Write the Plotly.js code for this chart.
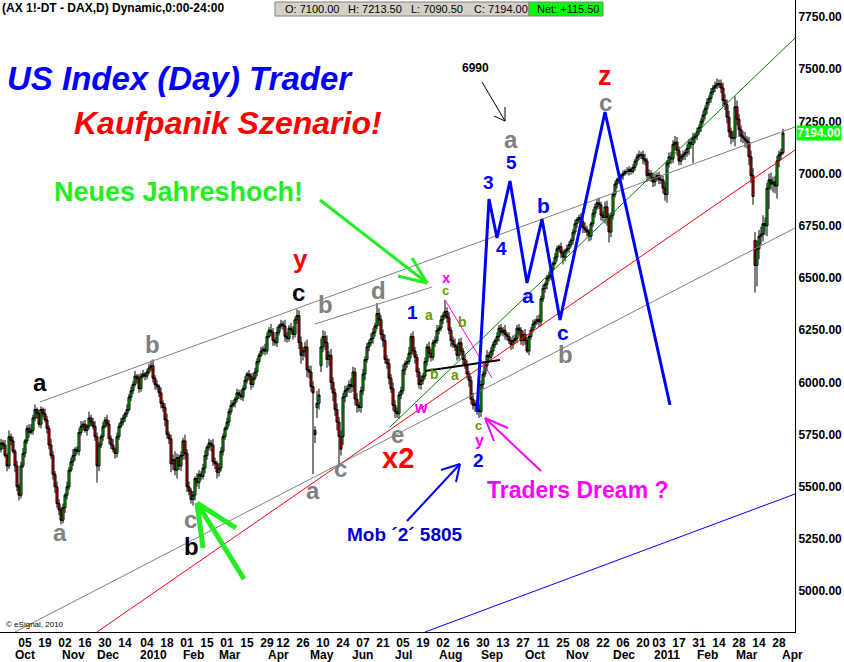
<!DOCTYPE html>
<html><head><meta charset="utf-8">
<script src="https://cdn.plot.ly/plotly-3.0.1.min.js"></script>
<style>html,body{margin:0;padding:0;background:#fff}#chart{width:844px;height:662px}</style>
</head><body><div id="chart"></div>
<script>
// ---------------- DATA ----------------
const startDate = '2009-09-17';
const endDate = '2011-03-30';
const holidays = ['2009-12-24','2009-12-25','2009-12-31','2010-01-01','2010-04-02','2010-04-05','2010-12-24','2010-12-31'];

const closes = [
5710,5700,5650,5600,5740,5720,5670,5600,5500,5460,
5600,5660,5720,5780,5760,5770,5830,5870,5850,5800,
5870,5850,5820,5780,5700,5650,5560,5500,5420,5390,
5340,5400,5460,5500,5580,5620,5650,5680,5670,5760,
5790,5800,5770,5790,5830,5810,5790,5740,5600,5700,
5740,5790,5820,5800,5730,5700,5680,5660,5740,5790,
5810,5830,5850,5870,5930,5960,5990,6030,6020,5970,
6030,6040,6030,6050,6070,6080,6020,5990,5980,5950,
5900,5880,5820,5750,5730,5610,5630,5580,5640,5600,
5650,5720,5660,5500,5480,5440,5460,5540,5520,5560,
5550,5590,5650,5690,5710,5700,5620,5610,5570,5590,
5670,5740,5780,5810,5860,5890,5900,5920,5950,5940,
5930,5970,6010,6040,6030,5990,6020,6050,6100,6130,
6150,6160,6150,6220,6250,6240,6200,6190,6240,6270,
6280,6270,6220,6210,6260,6250,6230,6300,6320,6190,
6130,6150,6170,6060,6050,5980,5950,5750,5900,5940,
6170,6220,6190,6110,6130,6000,5950,5870,5810,5740,
5680,5930,5960,5970,5990,5980,6050,5920,5890,5880,
5960,6040,6110,6170,6190,6210,6240,6270,6330,6300,
6230,6200,6110,6090,6020,5970,5890,5860,5850,5940,
5960,6060,6090,6100,6140,6220,6150,6120,6050,5990,
6010,6030,6100,6170,6140,6120,6190,6200,6250,6260,
6300,6320,6340,6310,6250,6200,6180,6170,6130,6190,
6150,6110,6080,6040,6010,5920,5890,5900,5870,5860,
5990,6040,6080,6130,6120,6150,6180,6200,6220,6260,
6240,6250,6230,6220,6200,6180,6200,6210,6260,6250,
6200,6230,6200,6150,6220,6250,6280,6290,6300,6290,
6400,6450,6470,6500,6510,6540,6570,6600,6640,6650,
6620,6600,6630,6640,6660,6680,6720,6760,6780,6790,
6770,6740,6730,6720,6700,6760,6810,6840,6860,6850,
6800,6790,6840,6790,6720,6800,6900,6950,6970,6980,
6990,7000,7010,7010,7020,7010,7030,7060,7080,7090,
7090,7070,7060,6990,7000,6980,6960,6980,6990,6970,
6970,6930,6900,7050,7080,7070,7140,7150,7110,7060,
7080,7090,7100,7120,7150,7140,7170,7180,7200,7220,
7250,7280,7310,7340,7360,7390,7410,7420,7430,7430,
7410,7350,7330,7270,7200,7170,7170,7320,7260,7210,
7180,7170,7160,7150,7080,6990,6890,6560,6640,6700,
6710,6760,6750,6930,6970,6950,6960,6940,7060,7090,
7100,7194];

// opening prices that gapped away from the previous close
const openGaps = [[157,5770],[158,5880],[160,6080],[171,5740],[377,6680]];
const firstOpen = 5680;

// upper / lower shadow lengths (points) read per candle
const wickUp = [
20,15,25,10,30,15,20,10,25,15,
20,25,10,15,20,30,15,25,10,20,
15,10,25,20,15,30,20,15,25,20,
15,20,10,25,15,20,30,10,15,20,
25,15,20,10,30,15,20,25,20,15,
10,20,15,25,20,15,30,10,20,15,
20,15,10,25,15,20,15,25,10,20,
15,20,10,15,20,25,30,15,20,10,
25,15,20,30,15,20,25,40,20,15,
20,15,30,20,25,15,20,10,25,20,
15,20,25,10,20,15,30,20,15,25,
20,15,10,20,15,25,15,10,20,15,
25,15,20,10,20,15,25,20,15,10,
20,15,25,20,15,30,20,15,25,10,
20,15,30,20,15,25,20,15,30,25,
30,20,25,35,20,30,25,20,60,30,
40,30,25,35,20,30,25,20,30,25,
30,20,25,15,20,30,25,20,30,15,
20,25,15,20,15,25,20,15,50,25,
20,25,30,20,25,20,30,25,20,15,
20,25,15,20,30,15,25,20,15,20,
25,15,20,15,25,20,15,20,25,15,
20,15,55,20,25,15,20,30,15,20,
25,15,20,25,15,20,30,15,20,25,
20,15,20,25,15,20,15,10,20,15,
20,15,25,10,20,15,25,20,15,20,
15,20,25,15,10,15,20,15,20,25,
15,20,10,15,20,15,10,20,15,10,
20,15,10,20,15,10,15,20,10,15,
20,15,25,20,15,10,20,15,20,25,
15,20,25,30,20,15,10,15,10,15,
10,15,10,20,15,10,15,10,15,20,
15,20,25,15,20,15,25,20,15,20,
25,20,30,15,20,25,20,30,25,20,
15,20,15,20,15,20,25,15,20,15,
15,20,15,20,15,20,15,20,25,20,
20,25,30,25,30,20,35,50,30,25,
20,25,30,20,25,30,35,40,40,30,
35,40,30,25,30,35,25,30,25,20,
20,19.5];
const wickDn = [
15,20,10,25,15,20,10,30,20,25,
15,10,20,15,25,10,20,15,25,15,
20,15,10,25,20,15,25,30,20,25,
20,15,25,20,15,10,20,25,15,20,
15,20,10,25,15,20,15,20,80,25,
15,20,10,15,25,20,15,25,20,15,
10,15,20,15,10,20,15,10,25,20,
15,10,20,15,10,15,20,25,15,20,
25,20,30,20,25,40,30,25,40,20,
25,20,30,25,20,20,30,25,20,30,
20,15,25,20,15,30,20,25,30,20,
15,20,15,10,20,15,10,20,15,20,
15,20,10,15,20,25,15,10,20,15,
10,15,20,15,10,20,25,15,20,15,
15,20,25,20,15,20,25,15,20,30,
40,25,30,35,30,25,390,40,50,30,
30,25,35,40,30,35,40,30,40,130,
30,40,25,30,20,30,25,30,35,20,
25,20,30,15,20,15,25,20,15,30,
25,30,20,25,30,20,25,30,20,25,
20,15,25,20,15,25,20,30,25,20,
25,20,15,20,25,20,15,20,15,20,
15,20,15,25,20,30,15,20,25,20,
20,25,15,20,30,25,20,30,25,30,
25,20,15,20,25,15,20,15,20,25,
15,20,25,20,15,25,20,15,20,25,
20,25,20,10,20,15,10,20,15,25,
20,15,20,25,15,20,15,10,20,15,
25,35,20,15,20,15,20,15,20,15,
20,25,15,20,25,20,15,20,15,20,
25,20,30,40,50,25,20,15,20,15,
15,20,10,15,20,15,10,15,20,15,
20,25,20,30,25,20,25,20,15,20,
20,25,30,40,20,25,20,30,25,20,
20,15,25,20,30,20,90,25,20,15,
20,15,20,25,15,20,15,20,15,20,
25,30,25,30,25,30,20,40,30,35,
30,25,35,30,40,35,40,130,100,50,
40,35,45,50,100,30,40,35,60,30,
25,9.5];

const tickDates = ['2009-10-05','2009-10-19','2009-11-02','2009-11-16','2009-11-30','2009-12-14',
'2010-01-04','2010-01-18','2010-02-01','2010-02-15','2010-03-01','2010-03-15','2010-03-29','2010-04-12','2010-04-26',
'2010-05-10','2010-05-24','2010-06-07','2010-06-21','2010-07-05','2010-07-19','2010-08-02','2010-08-16','2010-08-30',
'2010-09-13','2010-09-27','2010-10-11','2010-10-25','2010-11-08','2010-11-22','2010-12-06','2010-12-20',
'2011-01-03','2011-01-17','2011-01-31','2011-02-14','2011-02-28','2011-03-14','2011-03-28'];
const monthLabels = ['Oct','Nov','Dec','2010','Feb','Mar','Apr','May','Jun','Jul','Aug','Sep','Oct','Nov','Dec','2011','Feb','Mar','Apr'];
const yTicks = [5000,5250,5500,5750,6000,6250,6500,6750,7000,7250,7500,7750];

const lastBar = {o:7100.00, h:7213.50, l:7090.50, c:7194.00, net:'+115.50'};

// ---------------- BUILD ----------------
const days = [];
(function(){
  let d = new Date(startDate+'T00:00:00Z'); const end = new Date(endDate+'T00:00:00Z');
  while (d <= end) { const wd = d.getUTCDay(); const s = d.toISOString().slice(0,10);
    if (wd!==0 && wd!==6 && !holidays.includes(s)) days.push(s);
    d.setUTCDate(d.getUTCDate()+1); }
})();
const n = closes.length;
const xs = closes.map((_,i)=>i);
const opens = closes.map((c,i)=> i===0 ? firstOpen : closes[i-1]);
openGaps.forEach(([i,v])=>{opens[i]=v;});
const highs = closes.map((c,i)=> Math.max(opens[i],c)+wickUp[i]);
const lows  = closes.map((c,i)=> Math.min(opens[i],c)-wickDn[i]);

// pixel helpers (plot area 795 x 632)
const Y0 = 4805, Y1 = 7831, X0 = -0.5, X1 = 397;
const X = px => X0 + px*(X1-X0)/795;
const Y = py => Y1 - py*(Y1-Y0)/632;
const FONT = 'Liberation Sans, Arial, sans-serif';

const trace = {
  type:'candlestick', x: xs, open: opens, high: highs, low: lows, close: closes,
  text: days.slice(0,n), hoverinfo:'text',
  increasing:{line:{color:'#000000',width:1}, fillcolor:'#00d000'},
  decreasing:{line:{color:'#000000',width:1}, fillcolor:'#ee0000'},
  whiskerwidth:0
};

const annotations = [];
const shapes = [];
function lbl(t, px, py, color, size, opts){
  annotations.push(Object.assign({text:'<b>'+t+'</b>', x:X(px), y:Y(py), xref:'x', yref:'y', showarrow:false,
    xanchor:'center', yanchor:'middle', font:{family:FONT, size:size, color:color}}, opts||{}));
}
function seg(px0,py0,px1,py1,color,w){
  shapes.push({type:'line', xref:'x', yref:'y', x0:X(px0), y0:Y(py0), x1:X(px1), y1:Y(py1), line:{color:color,width:w}});
}
function arrow(tail, tip, h1, h2, color, w){
  seg(tail[0],tail[1],tip[0],tip[1],color,w);
  seg(tip[0],tip[1],h1[0],h1[1],color,w);
  seg(tip[0],tip[1],h2[0],h2[1],color,w);
}

// channel lines
seg(40,402,795,127,'#808080',1);
seg(315,324,432,287,'#808080',1);
seg(15,632,795,228,'#808080',1);
seg(97,632,795,150,'#ff0000',1);
seg(390,427,795,38,'#008000',1);
seg(425,632,795,494,'#0000ff',1);
seg(445,300,492,378,'#ff00ff',1);
seg(425,371,500,360,'#000000',2);

// projected wave path
const wave = [[477,412],[489,199],[497,238],[510,181],[527,283],[542,219],[560,320],[605,112],[670,405]];
shapes.push({type:'path', xref:'x', yref:'y', line:{color:'#0000ff',width:3},
  path: wave.map((p,i)=>(i?'L':'M')+X(p[0])+','+Y(p[1])).join(' ')});

// arrows
arrow([320,200],[427,283],[398,276],[412,258],'#22ee22',3);
arrow([244,579],[197,503],[236,528],[203,548],'#22ee22',5);
arrow([407,521],[460,464],[441,470],[456,482],'#0000ff',2);
arrow([541,471],[485,418],[508,428],[494,441],'#ff00ff',2);
arrow([482,82],[505,121],[494,116],[505,107],'#000000',1);

// wave labels
[
 ['a',40,382,'#000000',24],['a',60,532,'#808080',24],['b',152,344,'#808080',24],['c',190,519,'#808080',24],
 ['b',191,546,'#000000',24],['y',300,259,'#ff0000',26],['c',298,292,'#000000',24],['b',325,304,'#808080',24],
 ['a',313,490,'#808080',24],['c',340,468,'#808080',24],['d',378,290,'#808080',24],['e',397,434,'#808080',24],
 ['x2',398,458,'#ff0000',29],['1',412,312,'#0000ff',19],['a',429,315,'#669900',14],['x',446,277,'#ff00ff',15],
 ['c',445,290,'#669900',13],['b',462,322,'#669900',14],['b',434,374,'#669900',14],['a',455,375,'#669900',14],
 ['w',421,407,'#ff00ff',16],['c',478,425,'#669900',13],['y',479,440,'#ff00ff',16],['2',478,460,'#0000ff',19],
 ['3',488,182,'#0000ff',19],['4',501,248,'#0000ff',19],['5',511,162,'#0000ff',19],['a',511,139,'#808080',24],
 ['a',528,295,'#0000ff',21],['b',543,205,'#0000ff',21],['c',563,332,'#0000ff',21],['b',565,354,'#808080',24],
 ['z',605,76,'#ff0000',27],['c',605,102,'#808080',24],['6990',475,68,'#000000',12]
].forEach(a=>lbl(a[0],a[1],a[2],a[3],a[4]));

// big texts
lbl('<i>US Index (Day) Trader</i>',5,78,'#0000ff',33,{xanchor:'left'});
lbl('<i>Kaufpanik Szenario!</i>',72,123,'#ff0000',32,{xanchor:'left'});
lbl('Neues Jahreshoch!',52,192,'#22ee22',27,{xanchor:'left'});
lbl('Traders Dream ?',485,490,'#ff00ff',23,{xanchor:'left'});
lbl('Mob \u00b42\u00b4 5805',345,534,'#0000cc',19,{xanchor:'left'});
annotations.push({text:'\u00a9 eSignal, 2010', x:X(4), y:Y(624), xref:'x', yref:'y', showarrow:false, xanchor:'left', yanchor:'middle', font:{family:FONT,size:8,color:'#000'}});

// header
annotations.push({text:'<b>(AX 1!-DT - DAX,D) Dynamic,0:00-24:00</b>', x:0, y:1-8/632, xref:'paper', yref:'paper', showarrow:false, xanchor:'left', yanchor:'middle', font:{family:FONT,size:12,color:'#000'}});
shapes.push({type:'rect', xref:'paper', yref:'paper', x0:275/795, x1:529/795, y0:1-16/632, y1:1-2/632, fillcolor:'#d4d0c8', line:{color:'#808080',width:1}});
shapes.push({type:'rect', xref:'paper', yref:'paper', x0:529/795, x1:603/795, y0:1-16/632, y1:1-2/632, fillcolor:'#00ff00', line:{color:'#808080',width:1}});
[['O: '+lastBar.o.toFixed(2),283],['H: '+lastBar.h.toFixed(2),346],['L: '+lastBar.l.toFixed(2),409],['C: '+lastBar.c.toFixed(2),472],['Net: '+lastBar.net,535]]
 .forEach(([t,px])=>annotations.push({text:t, x:px/795, y:1-9/632, xref:'paper', yref:'paper', showarrow:false, xanchor:'left', yanchor:'middle', font:{family:FONT,size:11,color:'#000'}}));

// last price tag
annotations.push({text:'<b>'+lastBar.c.toFixed(2)+'</b>', x:1, y:lastBar.c, xref:'paper', yref:'y', xshift:1, showarrow:false, xanchor:'left', yanchor:'middle', bgcolor:'#00ff00', borderpad:0, font:{family:FONT,size:12,color:'#ffffff'}});

// month labels
const monthPx = [25,73,108,153,193,230,278,322,362,403,450,492,535,577,624,667,707,747,792];
monthLabels.forEach((m,i)=>annotations.push({text:'<b>'+m+'</b>', x:X(monthPx[i]), y:0, xref:'x', yref:'paper', yshift:-23, showarrow:false, xanchor:'center', yanchor:'middle', font:{family:FONT,size:12,color:'#000'}}));

const layout = {
  width:844, height:662, margin:{l:0,r:49,t:0,b:30,pad:0}, paper_bgcolor:'#ffffff', plot_bgcolor:'#ffffff', showlegend:false,
  boxgap:0, boxgroupgap:0,
  xaxis:{range:[X0,X1], tickvals: tickDates.map(t=>days.indexOf(t)), ticktext: tickDates.map(t=>t.slice(8)),
    tickfont:{family:FONT,size:12,color:'#000',weight:'bold'}, ticks:'', showgrid:false, zeroline:false,
    showline:true, linecolor:'#000', linewidth:1, rangeslider:{visible:false}, fixedrange:true, tickangle:0},
  yaxis:{side:'right', range:[Y0,Y1], tickvals:yTicks, tickformat:'.2f', ticks:'', showgrid:false, zeroline:false,
    showline:true, linecolor:'#000', linewidth:1, tickfont:{family:FONT,size:12,color:'#000',weight:'bold'}, fixedrange:true},
  annotations: annotations, shapes: shapes, hovermode:false
};
Plotly.newPlot('chart',[trace],layout,{displayModeBar:false, staticPlot:true});
</script></body></html>
